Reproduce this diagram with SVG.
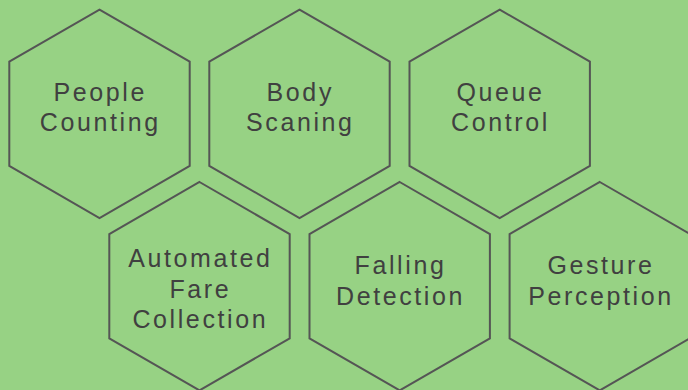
<svg xmlns="http://www.w3.org/2000/svg" width="688" height="390" viewBox="0 0 688 390">
<style>
.hex{fill:none;stroke:#555555;stroke-width:2;stroke-linejoin:miter}
.t{font-family:"Liberation Sans",Arial,sans-serif;font-size:25px;letter-spacing:2.6px;fill:#404040;text-anchor:middle}
</style>
<defs>
<polygon id="hx" points="0,-104.2 90.2,-52.1 90.2,52.1 0,104.2 -90.2,52.1 -90.2,-52.1"/>
</defs>
<rect width="688" height="390" fill="#97D284"/>
<g id="connectors"/>
<g id="people-counting">
<use href="#hx" class="hex" x="99.5" y="113.8"/>
<text class="t" x="100.3" y="100.7">People</text>
<text class="t" x="100.3" y="131">Counting</text>
</g>
<g id="body-scaning">
<use href="#hx" class="hex" x="299.5" y="113.8"/>
<text class="t" x="300.3" y="100.7">Body</text>
<text class="t" x="300.3" y="131">Scaning</text>
</g>
<g id="queue-control">
<use href="#hx" class="hex" x="499.7" y="113.8"/>
<text class="t" x="500.5" y="100.7">Queue</text>
<text class="t" x="500.5" y="131">Control</text>
</g>
<g id="automated-fare-collection">
<use href="#hx" class="hex" x="199.5" y="286.2"/>
<text class="t" x="200.3" y="266.7">Automated</text>
<text class="t" x="200.3" y="297.5">Fare</text>
<text class="t" x="200.3" y="327.8">Collection</text>
</g>
<g id="falling-detection">
<use href="#hx" class="hex" x="399.7" y="286.2"/>
<text class="t" x="400.5" y="274.3">Falling</text>
<text class="t" x="400.5" y="305">Detection</text>
</g>
<g id="gesture-perception">
<use href="#hx" class="hex" x="599.8" y="286.2"/>
<text class="t" x="601" y="274.3">Gesture</text>
<text class="t" x="601" y="305">Perception</text>
</g>
</svg>
